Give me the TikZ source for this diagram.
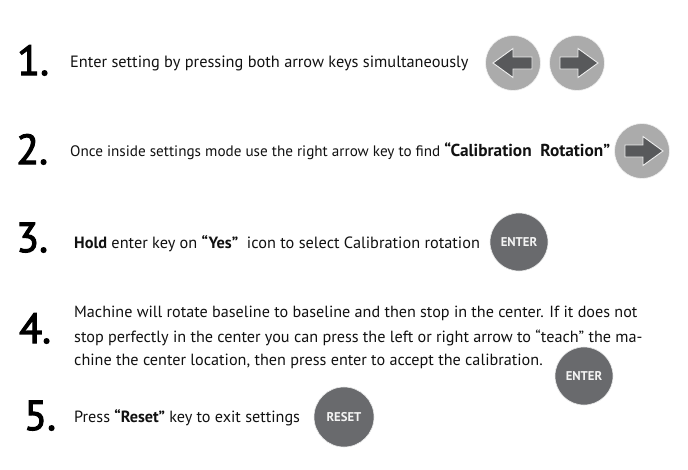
\documentclass[tikz,border=0pt]{standalone}
\usepackage{fontspec}
\setmainfont{PT Sans}
\newfontfamily\numfont[FakeBold=2.6]{PT Sans}
\definecolor{keygray}{HTML}{ABABAB}
\definecolor{arrowgray}{HTML}{58595B}
\definecolor{darkkey}{HTML}{696A6D}
\definecolor{ink}{HTML}{111111}
\tikzset{
  body/.style={anchor=base west,inner sep=0pt,text=ink,font=\fontsize{16.2}{16.2}\selectfont},
  num/.style={anchor=base west,inner sep=0pt,text=black,font=\numfont\fontsize{42}{42}\selectfont},
  arrowkey/.style={circle,fill=keygray,draw=white!85!keygray,line width=.6pt,minimum size=55pt,inner sep=0pt},
  darkbutton/.style={circle,fill=darkkey,draw=white!85!darkkey,line width=.6pt,minimum size=58pt,inner sep=0pt,text=white!92!darkkey,font=\fontsize{12.7}{12.7}\selectfont\bfseries},
  arrowglyph/.style={fill=arrowgray,draw=white!80!keygray,line width=.9pt,line join=miter}
}
\newcommand{\rightglyph}[1]{\fill[arrowglyph,shift={(#1)}] (-17,-6) -- (1,-6) -- (1,-14.5) -- (21,0) -- (1,14.5) -- (1,6) -- (-17,6) -- cycle;}
\newcommand{\leftglyph}[1]{\fill[arrowglyph,shift={(#1)}] (19,-6) -- (0,-6) -- (0,-14.5) -- (-20,0) -- (0,14.5) -- (0,6) -- (19,6) -- cycle;}
\begin{document}
\begin{tikzpicture}[x=1pt,y=-1pt]
\useasboundingbox (0,0) rectangle (688,469);
\fill[white] (0,0) rectangle (688,469);
\node[num] (n1) at (17,75) {1.};
\node[num] (n2) at (16,164) {2.};
\node[num] (n3) at (16,252) {3.};
\node[num] (n4) at (19,343) {4.};
\node[num] (n5) at (24,430) {5.};
\node[body,font=\fontsize{16.35}{16.35}\selectfont] (t1) at (70,67) {Enter setting by pressing both arrow keys simultaneously};
\node[body,font=\fontsize{15.17}{15.17}\selectfont] (t2) at (70,156) {Once inside settings mode use the right arrow key to find \fontsize{17.3}{17.3}\selectfont\textbf{“Calibration\ \ Rotation”}};
\node[body,font=\fontsize{16.3}{16.3}\selectfont] (t3) at (74,248) {\textbf{Hold} enter key on \textbf{“Yes”}\ \ icon to select Calibration rotation};
\node[body,font=\fontsize{16.15}{16.15}\selectfont] (t4a) at (74,317) {Machine will rotate baseline to baseline and then stop in the center. If it does not};
\node[body] (t4b) at (74,342) {stop perfectly in the center you can press the left or right arrow to “teach” the ma-};
\node[body] (t4c) at (74,365) {chine the center location, then press enter to accept the calibration.};
\node[body] (t5) at (74,422) {Press \textbf{“Reset”} key to exit settings};
\node[arrowkey] (kl) at (513,63) {};
\node[arrowkey] (kr) at (577,63) {};
\node[arrowkey] (kc) at (642,151) {};
\leftglyph{513,63}
\rightglyph{577,63}
\rightglyph{642,151}
\node[darkbutton] (e1) at (519,242) {ENTER};
\node[darkbutton] (e2) at (584,376) {ENTER};
\node[darkbutton,minimum size=60pt] (r1) at (344,417) {RESET};
\end{tikzpicture}
\end{document}
